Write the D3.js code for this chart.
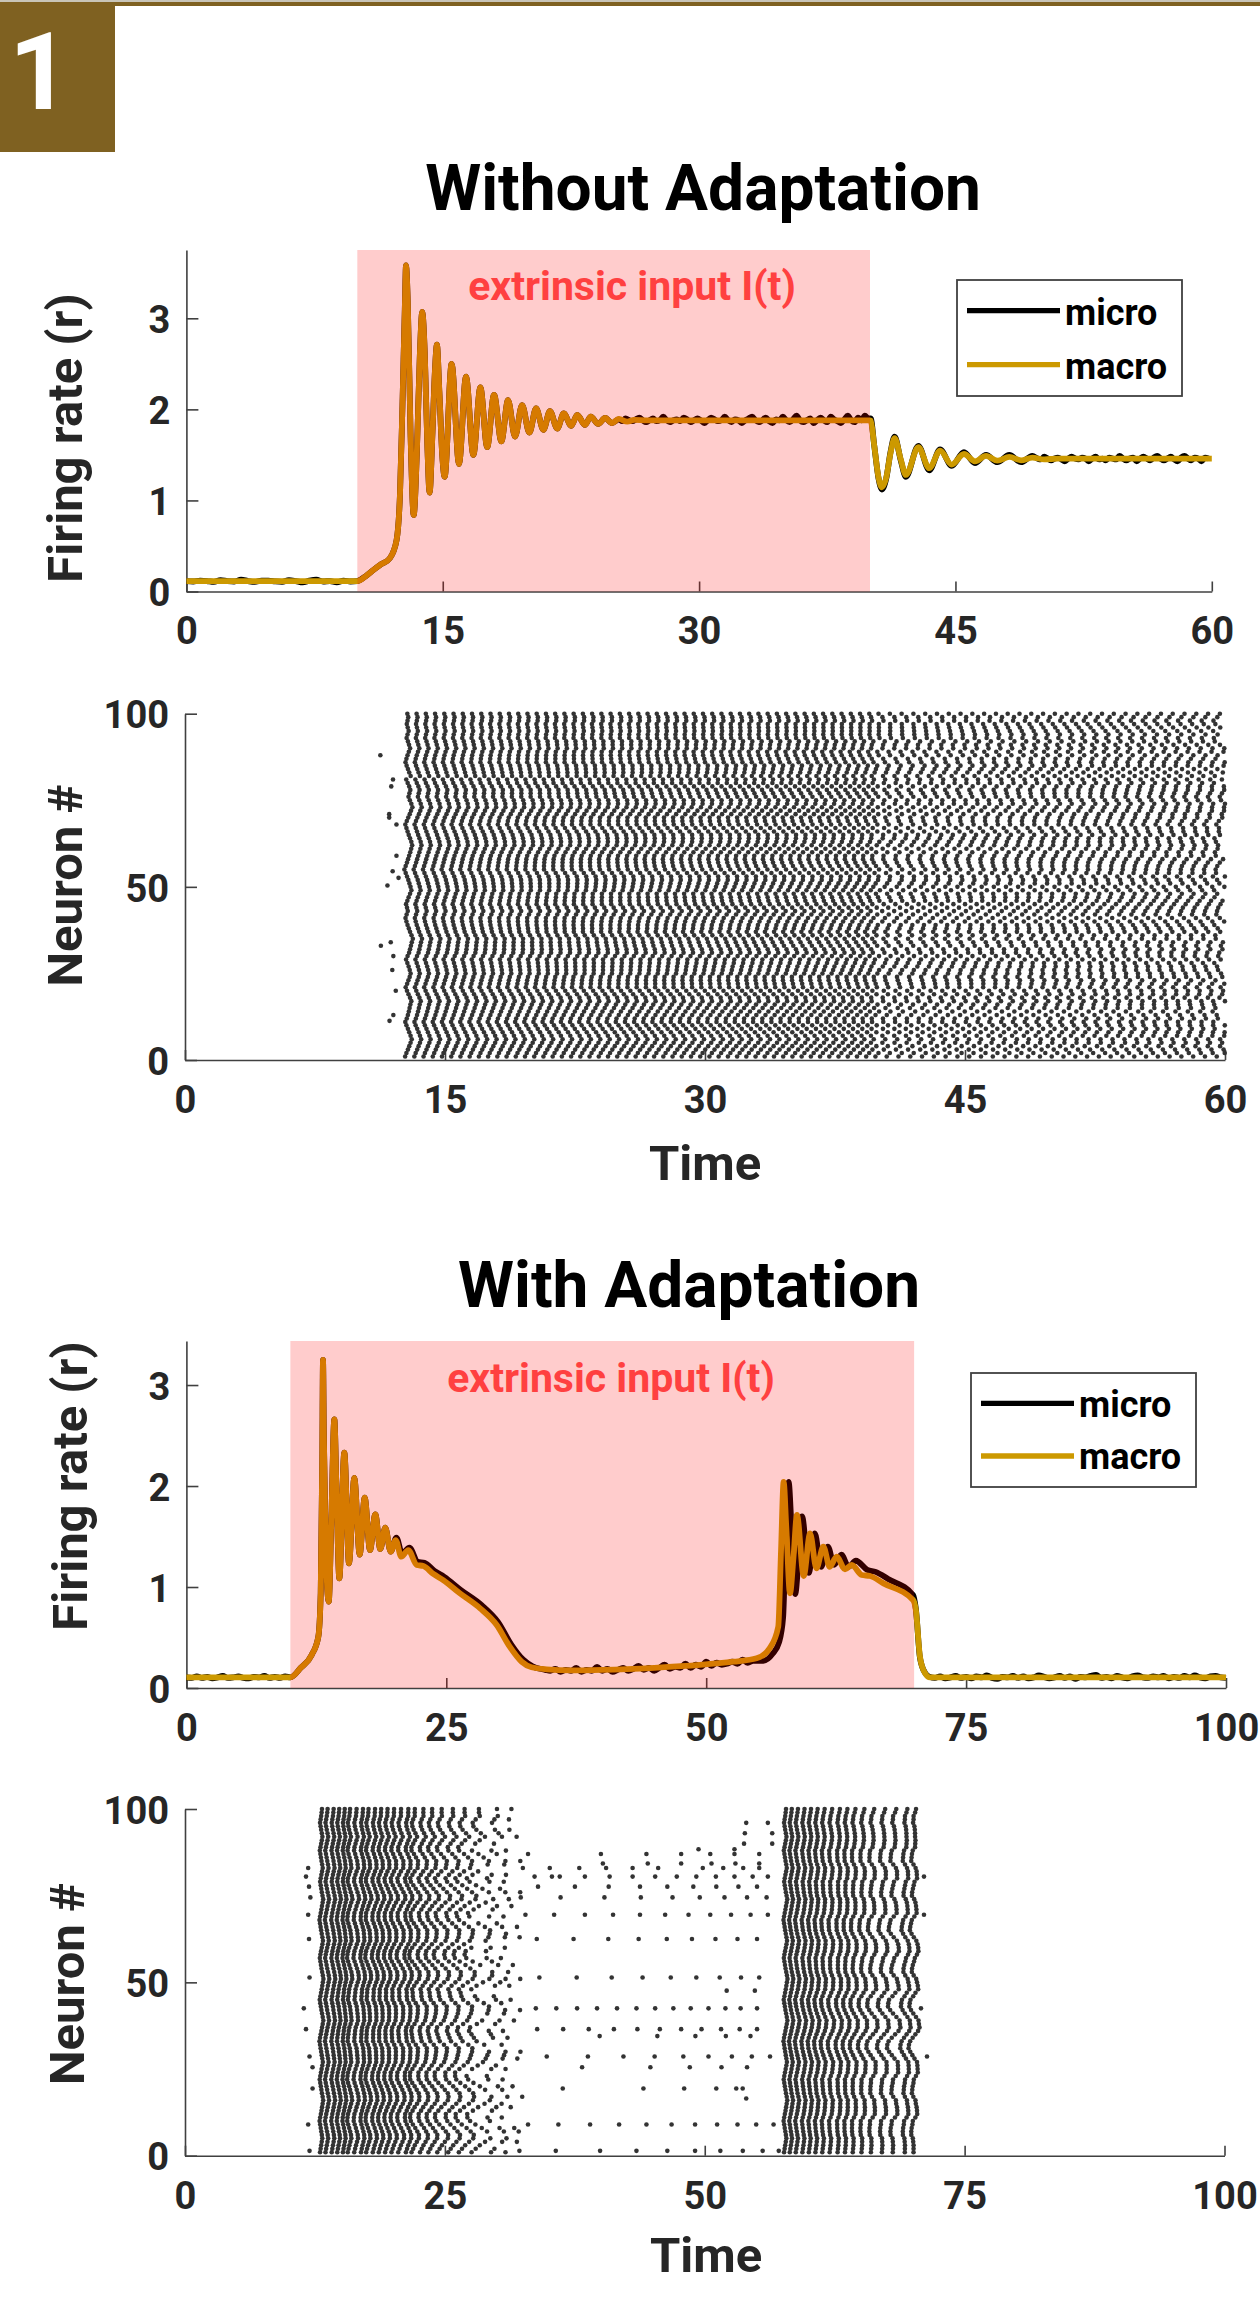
<!DOCTYPE html>
<html><head><meta charset="utf-8">
<script src="https://cdn.jsdelivr.net/npm/d3@7"></script>
<style>html,body{margin:0;background:#fff}svg{display:block}text{font-family:Roboto,sans-serif;font-weight:700}</style>
</head><body><svg id="c" width="1260" height="2321"></svg>
<script>
// ---------- Firing rate, panel 1 (without adaptation)
const p1MacroT=[0,10,10.5,10.94,11.4,11.91,12.3,12.5,12.64,12.78,12.85,12.95,13.12,13.3,13.48,13.66,13.8,13.95,14.1,14.23,14.4,14.55,14.66,14.8,14.97,15.11,15.52,15.95,16.36,16.79,17.2,17.6,18,18.43,18.82,19.23,19.64,20.07,20.46,20.89,21.27,21.7,22.08,22.52,22.87,23.32,23.66,24.1,24.5,24.9,25.3,25.8,26.2,27,40,40.04,40.25,40.5,40.7,40.95,41.2,41.44,41.8,42.1,42.83,43.47,44.1,44.78,45.5,46.14,46.79,47.45,48.15,48.84,49.5,50.2,51,60];
const p1MacroR=[.115,.115,.17,.236,.3,.367,.566,1.08,2.03,3.1,3.58,3.2,1.7,.84,1.5,2.6,3.07,2.6,1.6,1.085,1.75,2.45,2.71,2.2,1.5,1.26,2.5,1.4,2.36,1.5,2.24,1.585,2.16,1.65,2.1,1.7,2.045,1.745,2.01,1.775,1.98,1.79,1.955,1.82,1.94,1.83,1.92,1.84,1.905,1.85,1.895,1.865,1.885,1.88,1.88,1.877,1.6,1.25,1.145,1.25,1.52,1.683,1.45,1.28,1.585,1.354,1.547,1.394,1.51,1.43,1.49,1.437,1.478,1.44,1.47,1.45,1.46,1.46];
const p1MicroBase=[.115,.11,.12,.115,.105,.125,.115,.11,.13,.115,.105,.12,.12,.11,.105,.125,.115,.1,.12,.13,.11,.115,.1,.12,.11,.115];
const p1MicroHigh=[1.89,1.87,1.9,1.88,1.87,1.89,1.91,1.88,1.86,1.88,1.9,1.87,1.88,1.92,1.88,1.86,1.88,1.89,1.87,1.91,1.89,1.86,1.88,1.9,1.88,1.85,1.88,1.91,1.89,1.87,1.88,1.92,1.88,1.86,1.89,1.88,1.85,1.88,1.9,1.92,1.88,1.86,1.88,1.91,1.87,1.85,1.89,1.88,1.92,1.88,1.86,1.89,1.93,1.88,1.86,1.88,1.9,1.85,1.88,1.91,1.88,1.86,1.92,1.89,1.87,1.85,1.89,1.93,1.88,1.86,1.91,1.88,1.93,1.9];
const p1MicroRing=[[40.04,1.9],[40.25,1.6],[40.5,1.24],[40.7,1.12],[40.95,1.24],[41.2,1.53],[41.44,1.7],[41.8,1.44],[42.1,1.26],[42.83,1.6],[43.47,1.33],[44.1,1.56],[44.78,1.38],[45.5,1.53],[46.14,1.41],[46.79,1.5],[47.45,1.42],[48.15,1.5],[48.84,1.42],[49.5,1.49]];
const p1MicroLow=[1.46,1.45,1.48,1.46,1.44,1.46,1.47,1.45,1.43,1.46,1.48,1.46,1.45,1.47,1.46,1.43,1.46,1.48,1.45,1.46,1.44,1.47,1.46,1.45,1.49,1.46,1.44,1.46,1.47,1.43,1.46,1.48,1.46,1.44,1.47,1.49,1.46,1.44,1.46,1.48,1.45,1.43,1.47,1.49,1.46,1.44,1.47,1.46,1.43,1.47,1.46];
// ---------- Firing rate, panel 3 (with adaptation)
const p3MacroT=[0,10,11,12.05,12.69,12.92,13.07,13.14,13.22,13.4,13.69,13.95,14.23,14.45,14.71,15.19,15.64,16.15,16.67,17.15,17.66,18.17,18.65,19.13,19.65,20.13,20.67,21.34,22.15,22.8,23.75,24.7,26.3,28.25,29.85,31.1,32.25,33.2,34.65,37,40,45,49.4,52.6,54.85,56.1,56.93,57.2,57.45,57.7,58.06,58.4,58.73,59.38,59.99,60.6,61.27,61.88,62.55,63.35,64,64.96,65.76,67.05,69.9,70.17,70.56,71.05,71.53,100];
const p3MacroR=[.105,.105,.2,.327,.508,.94,2.26,3.25,2.5,1.4,.855,1.7,2.66,1.9,1.086,2.33,1.235,2.08,1.32,1.885,1.366,1.72,1.376,1.587,1.35,1.465,1.3,1.366,1.218,1.208,1.129,1.069,.938,.789,.624,.409,.26,.205,.185,.175,.18,.2,.228,.26,.294,.393,.607,1.366,2.04,1.6,.938,1.3,1.713,1.109,1.53,1.185,1.4,1.2,1.3,1.175,1.218,1.119,1.109,1.036,.871,.77,.31,.147,.106,.105];
const p3MicroBase=[.105,.1,.115,.1,.11,.095,.105,.12,.1,.105,.115,.1,.095,.11,.105,.12,.1,.11,.1,.115,.105];
const p3MicroDecline=[[20.2,1.49],[20.75,1.33],[21.45,1.39],[22.25,1.25],[22.9,1.24],[23.85,1.16],[24.8,1.1],[26.4,.97],[28.4,.82],[30,.65],[31.25,.43],[32.4,.28],[33.3,.215],[34,.19]];
const p3MicroTrough=[.18,.17,.19,.16,.18,.17,.2,.16,.18,.17,.21,.17,.19,.16,.18,.2,.17,.19,.22,.18,.2,.17,.2,.23,.19,.21,.2,.24,.2,.23,.21,.26,.22,.25,.23,.24,.26,.24,.28,.25,.27];
const p3MicroRebound=[[55.5,.27],[56.4,.34],[57,.45],[57.4,.7],[57.65,1.5],[57.93,2.04],[58.2,1.6],[58.56,.93],[58.9,1.3],[59.22,1.7],[59.87,1.14],[60.45,1.53],[61.05,1.2],[61.7,1.4],[62.3,1.22],[63,1.32],[63.7,1.2],[64.4,1.26],[65.5,1.17],[66.3,1.15],[67.5,1.08],[69.9,.92],[70.17,.78],[70.56,.3],[71.05,.15],[71.5,.11]];
const p3MicroEnd=[.1,.115,.095,.105,.12,.1,.11,.095,.115,.105,.125,.1,.09,.11,.105,.12,.1,.115,.095,.105,.125,.11,.095,.105,.12,.1,.115,.09,.11,.105,.12,.13,.1,.11,.095,.12,.105,.095,.115,.125,.105,.1,.115,.105,.12,.095,.11,.1,.12,.105,.125,.105,.095,.115,.12,.105,.1];
// ---------- Raster rows (neuron 1..100), estimated from the stripe pattern
const r1Phase=[0,.14,.3,.44,.58,.7,.58,.44,.3,.14,.02,.18,.3,.4,.48,.56,.66,.52,.36,.2,.06,.22,.36,.5,.6,.5,.38,.24,.1,.26,.42,.52,.62,.72,.84,.7,.54,.4,.26,.14,.04,.16,.28,.2,.1,.24,.38,.54,.68,.58,.46,.34,.2,.06,-.08,.06,.2,.32,.44,.56,.66,.76,.66,.52,.38,.26,.14,.02,.18,.34,.5,.64,.78,.66,.5,.36,.46,.56,.44,.28,.12,.6,.44,.3,.16,.04,.14,.26,.4,.54,.42,.3,.16,.26,.38,.28,.18,.26,.34,.24];
const r1IsiDuring=[.532,.534,.536,.539,.542,.544,.542,.539,.535,.532,.528,.526,.529,.532,.536,.539,.542,.543,.54,.537,.533,.53,.527,.525,.528,.531,.534,.538,.541,.544,.546,.543,.538,.534,.53,.526,.525,.529,.532,.536,.54,.543,.545,.542,.538,.534,.531,.527,.53,.534,.538,.542,.544,.541,.537,.532,.528,.525,.524,.527,.531,.536,.54,.543,.545,.542,.538,.534,.53,.527,.53,.533,.537,.542,.545,.542,.538,.534,.53,.526,.529,.532,.537,.54,.543,.54,.537,.533,.53,.532,.534,.537,.535,.533,.532,.533,.534,.536,.534,.533];
const r1IsiAfter=[.68,.69,.7,.71,.7,.69,.68,.67,.66,.67,.68,.69,.705,.715,.705,.695,.68,.67,.665,.675,.685,.695,.705,.695,.685,.675,.665,.655,.665,.675,.69,.7,.71,.72,.71,.7,.69,.68,.67,.68,.69,.7,.69,.68,.67,.66,.67,.68,.69,.7,.71,.7,.69,.68,.67,.68,.69,.7,.71,.7,.69,.68,.67,.66,.67,.68,.69,.7,.71,.72,.71,.7,.69,.68,.67,.68,.69,.7,.69,.68,.67,.66,.67,.68,.69,.7,.71,.7,.69,.68,.67,.68,.69,.7,.69,.68,.67,.68,.69,.68];
const r1EarlyT=[11.27,11.9,12,11.78,11.78,12.2,12.2,11.98,12.32,11.68,11.3,11.87,12.02,11.96,12.16,12.02,11.8];
const r1EarlyN=[88,79,81,71,70,68,59,54.5,52.6,50.4,33,34,30,26,20,13,11.3];
const r3Lag=[-.2,-.1,0,.1,.2,.12,.02,-.08,-.18,-.28,-.18,-.06,.06,.16,.26,.36,.26,.14,.04,-.06,-.16,-.26,-.16,-.04,.08,.2,.3,.2,.1,0,-.1,-.2,-.3,-.2,-.08,.04,.16,.28,.38,.28,.16,.04,-.06,-.16,-.26,-.14,-.02,.1,.2,.3,.4,.3,.18,.06,-.04,-.14,-.24,-.14,-.02,.1,.22,.32,.22,.1,0,-.1,-.2,-.3,-.2,-.08,.04,.14,.26,.36,.24,.12,.02,-.08,-.18,-.08,.04,.16,.28,.18,.06,-.04,-.14,-.24,-.12,0,.12,.22,.12,0,-.1,-.2,-.1,0,.08,.14];
const r3Burst1=[13.1,13.64,14.23,14.77,15.31,15.81,16.44,17.07,17.6,18.23,18.82,19.44,20.07,20.74,21.45,22.07,22.9,23.74,24.66,25.74,26.87,28.25,30,31.4];
const r3Burst1Last=[23,22,21,23,22,20,23,23,21,22,23,21,22,23,22,21,23,20,22,23,21,23,22,20,23,22,21,23,22,23,20,22,21,23,22,23,21,22,23,20,22,23,21,22,23,22,20,21,23,22,23,21,22,20,23,22,23,21,22,23,20,21,23,22,21,23,22,20,23,21,22,23,21,22,20,23,22,21,23,22,23,21,20,22,23,21,22,23,20,22,21,23,22,23,21,22,23,22,21,23];
const r3Burst2=[57.74,58.29,58.87,59.5,60.12,60.75,61.41,62.12,62.87,63.58,64.33,65.17,66.08,67.13,68.17,69.3,70.13];
// sparse spikes between and around the two bursts, read dot by dot
const r3SparseN=[1.4,9,16.5,19.4,25.5,28.6,34.5,36.5,42.5,47.6,51.4,62.5,69.5,74.5,77.6,80.5,83,84.3,87,88.4,90,93,96];
const r3SparseT=[[11.98,32.17,35.67,39.93,43.43,46.4,49.07,51.5,53.66,55.57,57.12],[11.85,33,35.92,38.97,41.76,44.39,46.81,49.07,51.19,53.15,54.95,56.62],[53.99],[12.27,36.34,44.1,48.02,51.11,53.03,53.65],[12.27,38.2,44.77,48.56,51.61,54.07],[11.98,34.8,38.76,42.18,45.18,47.94,50.36,52.61,54.53,56.28,71.38],[39.89,45.44,49.1,52.03,54.4],[11.64,33.88,36.38,38.84,41.26,43.52,45.68,47.73,49.69,51.57,53.36,55.03],[11.43,33.75,35.72,37.72,39.64,41.56,43.43,45.23,46.98,48.65,50.36,51.99,53.45,55.03,70.8],[52.11,54.82],[11.98,34.09,37.68,41.05,44.02,46.73,49.19,51.44,53.49,55.24],[11.93,33.84,37.38,40.72,43.64,46.35,48.77,51.03,53.15,55.03],[11.85,32.75,35.51,38.47,41.18,43.77,46.19,48.44,50.53,52.53,54.41,56.07,71.09],[12.06,32.3,36.13,40.35,43.85,46.9,49.52,51.9,54.07,55.95],[11.93,33.96,37.51,40.76,43.77,46.4,48.9,51.11,53.24,55.03],[11.64,33.63,35.3,36.05,38.47,40.85,43.06,45.23,47.31,49.19,51.07,52.86,54.61,56.07,71.09],[11.85,32.5,35.09,37.93,40.51,43.06,45.52,49.81,51.78,53.7,55.24],[40.2,44.52,47.73,50.65,52.95,55.24],[33,40.01,44.39,47.73,50.53,52.86,55.24],[49.4,52.86],[53.78,56.49],[53.86,56.49],[53.99,56.07]];
// ---------- Ticks and labels
const ticks60=[0,15,30,45,60], ticks100=[0,25,50,75,100], rateTicks=[0,1,2,3], neuronTicks=[0,50,100];
const inputLabel="extrinsic input I(t)", legendNames=["micro","macro"];
const MICRO="#000", MACRO="#cc9900", INK="#262626", AXIS="#404040";

const grid=(t0,dt,vals)=>vals.map((v,i)=>[t0+i*dt,v]);
const knots=(T,R,a,b)=>d3.zip(T,R).filter(d=>d[0]>=a&&d[0]<=b);
const p1Micro=[...grid(0,.4,p1MicroBase),...knots(p1MacroT,p1MacroR,10.3,25),...grid(25.3,.2,p1MicroHigh),...p1MicroRing,...grid(49.8,.2,p1MicroLow)];
const p3Micro=[...grid(0,.5,p3MicroBase),...knots(p3MacroT,p3MacroR,10.5,19.7),...p3MicroDecline,...grid(34.5,.5,p3MicroTrough),...p3MicroRebound,...grid(72,.5,p3MicroEnd)];

const svg=d3.select("#c");
svg.append("rect").attr("width",1260).attr("height",6).attr("fill","#7f6121");
svg.append("rect").attr("width",1260).attr("height",2).attr("fill","#c9c5b8");
svg.append("rect").attr("y",2).attr("width",115).attr("height",150).attr("fill","#7f6121");
svg.append("text").attr("x",9).attr("y",109).attr("font-size",107).attr("fill","#fff").text("1");

function title(s,x,y){svg.append("text").attr("x",x).attr("y",y).attr("text-anchor","middle").attr("font-size",64).attr("fill","#000").text(s);}
function label(s,x,y,rot){const t=svg.append("text").attr("text-anchor","middle").attr("font-size",49).attr("fill",INK).text(s);
  t.attr("transform",`translate(${x},${y})`+(rot?" rotate(-90)":""));}
function axes(g,x,y,xt,yt){
  const ax=g.append("g").attr("transform",`translate(0,${y.range()[0]})`).call(d3.axisBottom(x).tickValues(xt).tickFormat(d3.format("d")).tickSizeInner(-10).tickSizeOuter(0).tickPadding(26));
  const ay=g.append("g").attr("transform",`translate(${x.range()[0]},0)`).call(d3.axisLeft(y).tickValues(yt).tickFormat(d3.format("d")).tickSizeInner(-12).tickSizeOuter(0).tickPadding(16));
  [ax,ay].forEach(a=>{a.attr("font-family",null).attr("font-size",null);
    a.selectAll("path,line").attr("stroke",AXIS).attr("stroke-width",1.6);
    a.selectAll("text").attr("fill",INK).attr("font-size",38);});
  ay.selectAll("text").attr("dy",".375em");
}
function rate(o){
  const x=d3.scaleLinear().domain(o.xd).range(o.xr), y=d3.scaleLinear().domain(o.yd).range(o.yr);
  const g=svg.append("g"); axes(g,x,y,o.xt,rateTicks);
  const line=d3.line().x(d=>x(d[0])).y(d=>y(d[1])).curve(d3.curveMonotoneX);
  g.append("path").attr("d",line(o.micro)).attr("fill","none").attr("stroke",MICRO).attr("stroke-width",5.8).attr("stroke-linejoin","round");
  g.append("path").attr("d",line(d3.zip(o.at,o.ar))).attr("fill","none").attr("stroke",MACRO).attr("stroke-width",5.8).attr("stroke-linejoin","round");
  g.append("rect").attr("x",x(o.win[0])).attr("width",x(o.win[1])-x(o.win[0])).attr("y",o.yr[1]).attr("height",o.yr[0]-o.yr[1]).attr("fill","red").attr("fill-opacity",.2);
  g.append("text").attr("x",o.lab[0]).attr("y",o.lab[1]).attr("text-anchor","middle").attr("font-size",41).attr("fill","#ff4040").text(inputLabel);
  const L=o.leg;
  g.append("rect").attr("x",L.x).attr("y",L.y).attr("width",L.w).attr("height",L.h).attr("fill","#fff").attr("stroke",AXIS).attr("stroke-width",1.8);
  legendNames.forEach((n,i)=>{
    g.append("line").attr("x1",L.x+10).attr("x2",L.x+103).attr("y1",L.ly[i]).attr("y2",L.ly[i]).attr("stroke",i?MACRO:MICRO).attr("stroke-width",5.3);
    g.append("text").attr("x",L.x+108).attr("y",L.ty[i]).attr("font-size",36).attr("fill","#000").text(n);
  });
}
function raster(o,pts){
  const x=d3.scaleLinear().domain(o.xd).range(o.xr), y=d3.scaleLinear().domain([0,100]).range(o.yr);
  const g=svg.append("g"); axes(g,x,y,o.xt,neuronTicks);
  g.append("g").attr("fill","#333").selectAll("circle").data(pts).join("circle").attr("cx",d=>x(d[0])).attr("cy",d=>y(d[1])).attr("r",2.3);
}
// panel 1
rate({xd:[0,60],xr:[186.4,1211.8],yd:[0,3.75],yr:[591.5,250],xt:ticks60,micro:p1Micro,at:p1MacroT,ar:p1MacroR,win:[10,40],lab:[632,300],
  leg:{x:957,y:280,w:225,h:116,ly:[310.7,364.7],ty:[325,379]}});
title("Without Adaptation",703,210); label("Firing rate (r)",82,438,true);
// panel 2 raster
const r1Pts=[];
r1Phase.forEach((ph,i)=>{
  let t=12.7+ph*r1IsiDuring[i];
  for(;t<40.1;t+=r1IsiDuring[i]) r1Pts.push([t,i+1]);
  for(t+=.12;t<=60;t+=r1IsiAfter[i]) r1Pts.push([t,i+1]);
});
r1EarlyT.forEach((t,i)=>r1Pts.push([t,r1EarlyN[i]]));
raster({xd:[0,60],xr:[185,1225],yr:[1060,713.7],xt:ticks60},r1Pts);
label("Neuron #",82,885.5,true); label("Time",705,1180,false);
// panel 3
rate({xd:[0,100],xr:[186.4,1226],yd:[0,3.436],yr:[1688,1341],xt:ticks100,micro:p3Micro,at:p3MacroT,ar:p3MacroR,win:[10,70],lab:[611,1391.7],
  leg:{x:971,y:1373,w:225,h:114,ly:[1403.3,1456],ty:[1417,1469]}});
title("With Adaptation",689,1306.7); label("Firing rate (r)",87,1486,true);
// panel 4 raster
const r3Pts=[];
function burst(cols,sign,last){
  r3Lag.forEach((lag,i)=>cols.forEach((c,k)=>{
    if(last&&k>last[i]) return;
    const gap=k<cols.length-1?cols[k+1]-c:c-cols[k-1];
    r3Pts.push([c+gap*(lag+sign*(r1IsiDuring[i]-.535)*k*3),i+1]);
  }));
}
burst(r3Burst1,1,r3Burst1Last); burst(r3Burst2,-1,null);
r3SparseN.forEach((n,i)=>r3SparseT[i].forEach(t=>r3Pts.push([t,n])));
raster({xd:[0,100],xr:[185,1224.5],yr:[2155.7,1809],xt:ticks100},r3Pts);
label("Neuron #",84,1984,true); label("Time",706,2272,false);
</script></body></html>
